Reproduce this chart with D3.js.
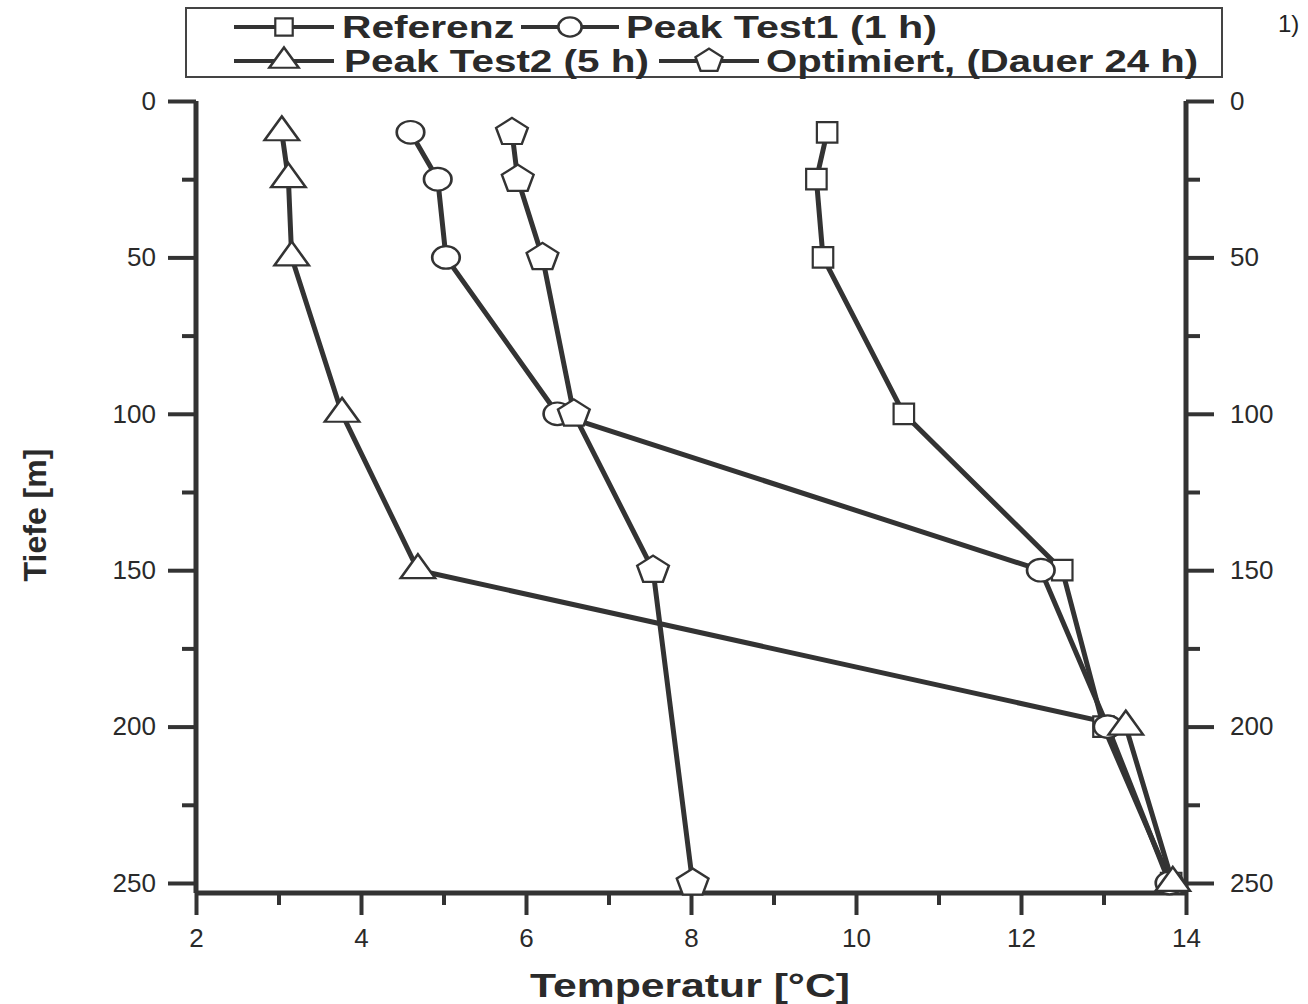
<!DOCTYPE html>
<html>
<head>
<meta charset="utf-8">
<script src="https://cdn.jsdelivr.net/npm/d3@7"></script>
<style>
  body { margin: 0; background: #fff; }
  svg { display: block; }
  .tick text { font-family: "Liberation Sans", Arial, sans-serif; font-size: 26px; fill: #2a2a2a; }
  .ttl { font-family: "Liberation Sans Narrow", "Liberation Sans", Arial, sans-serif; font-weight: bold; fill: #2a2a2a; }
</style>
</head>
<body>
<svg id="chart" width="1308" height="1004"></svg>
<script>
var depths = [10, 25, 50, 100, 150, 200, 250];
var referenz = [9.65, 9.52, 9.6, 10.58, 12.5, 13.0, 13.82];
var peakTest1 = [4.6, 4.93, 5.03, 6.38, 12.24, 13.05, 13.8];
var peakTest2 = [3.04, 3.12, 3.16, 3.77, 4.69, 13.27, 13.84];
var optDepths = [10, 25, 50, 100, 150, 250];
var optimiert = [5.83, 5.9, 6.2, 6.58, 7.54, 8.02];
var xTicks = [2, 4, 6, 8, 10, 12, 14];
var yTicks = [0, 50, 100, 150, 200, 250];

var ink = "#333";
var svg = d3.select("#chart");

var x = d3.scaleLinear().domain([2, 14]).range([196, 1186]);
var y = d3.scaleLinear().domain([0, 253.2]).range([101, 893]);

// pentagon symbol
var pentagon = {
  draw: function(ctx, size) {
    var r = Math.sqrt(size / 2.378);
    for (var i = 0; i < 5; i++) {
      var a = -Math.PI / 2 + i * 2 * Math.PI / 5;
      if (i == 0) ctx.moveTo(r * Math.cos(a), r * Math.sin(a));
      else ctx.lineTo(r * Math.cos(a), r * Math.sin(a));
    }
    ctx.closePath();
  }
};

var series = [
  {name: "Referenz", xs: referenz, ys: depths, sym: d3.symbolSquare, size: 420, sx: 1.0, sy: 1.0},
  {name: "Peak Test1 (1 h)", xs: peakTest1, ys: depths, sym: d3.symbolCircle, size: 400, sx: 1.22, sy: 1.0},
  {name: "Peak Test2 (5 h)", xs: peakTest2, ys: depths, sym: d3.symbolTriangle, size: 330, sx: 1.25, sy: 1.0},
  {name: "Optimiert, (Dauer 24 h)", xs: optimiert, ys: optDepths, sym: pentagon, size: 500, sx: 1.15, sy: 1.0}
];

// axes
var xAxis = d3.axisBottom(x).tickValues(xTicks).tickSize(22).tickPadding(14).tickFormat(d3.format("d"));
svg.append("g").attr("transform", "translate(0," + y(253.2) + ")").call(xAxis);
svg.append("g").attr("transform", "translate(0," + y(253.2) + ")")
  .call(d3.axisBottom(x).tickValues([3, 5, 7, 9, 11, 13]).tickSize(12).tickFormat(""));

svg.append("g").attr("transform", "translate(" + x(2) + ",0)")
  .call(d3.axisLeft(y).tickValues(yTicks).tickSize(28).tickPadding(12));
svg.append("g").attr("transform", "translate(" + x(2) + ",0)")
  .call(d3.axisLeft(y).tickValues([25, 75, 125, 175, 225]).tickSize(14).tickFormat(""));
svg.append("g").attr("transform", "translate(" + x(14) + ",0)")
  .call(d3.axisRight(y).tickValues(yTicks).tickSize(28).tickPadding(16));
svg.append("g").attr("transform", "translate(" + x(14) + ",0)")
  .call(d3.axisRight(y).tickValues([25, 75, 125, 175, 225]).tickSize(14).tickFormat(""));

svg.selectAll(".tick line").attr("stroke", ink).attr("stroke-width", 4);
// plain axis lines without end stubs
svg.selectAll(".domain").remove();
svg.append("line").attr("x1", x(2)).attr("x2", x(14)).attr("y1", y(253.2)).attr("y2", y(253.2))
  .attr("stroke", ink).attr("stroke-width", 5);
svg.append("line").attr("x1", x(2)).attr("x2", x(2)).attr("y1", y(0)).attr("y2", y(253.2))
  .attr("stroke", ink).attr("stroke-width", 5);
svg.append("line").attr("x1", x(14)).attr("x2", x(14)).attr("y1", y(0)).attr("y2", y(253.2))
  .attr("stroke", ink).attr("stroke-width", 5);

// axis titles
svg.append("text").attr("class", "ttl").attr("x", 530).attr("y", 997)
  .attr("textLength", 320).attr("lengthAdjust", "spacingAndGlyphs")
  .style("font-size", "34px").text("Temperatur [°C]");
svg.append("text").attr("class", "ttl").attr("transform", "translate(46,515) rotate(-90)")
  .attr("text-anchor", "middle").style("font-size", "32px").text("Tiefe [m]");

// lines
var line = d3.line();
series.forEach(function(s) {
  var pts = s.xs.map(function(v, i) { return [x(v), y(s.ys[i])]; });
  svg.append("path").attr("d", line(pts)).attr("fill", "none")
    .attr("stroke", ink).attr("stroke-width", 5).attr("stroke-linejoin", "round");
});

// markers
function marker(g, s, cx, cy, k) {
  g.append("path")
    .attr("d", d3.symbol().type(s.sym).size(s.size * k * k)())
    .attr("transform", "translate(" + cx + "," + cy + ") scale(" + s.sx + "," + s.sy + ")")
    .attr("fill", "#fff").attr("stroke", ink).attr("stroke-width", 2.2);
}
series.forEach(function(s) {
  s.xs.forEach(function(v, i) { marker(svg, s, x(v), y(s.ys[i]), 1); });
});

// legend
var leg = svg.append("g");
leg.append("rect").attr("x", 186).attr("y", 8).attr("width", 1036).attr("height", 69)
  .attr("fill", "none").attr("stroke", "#444").attr("stroke-width", 2);
var legPos = [
  {s: 0, x0: 234, x1: 334, ty: 27, tx: 342, tw: 172},
  {s: 1, x0: 521, x1: 619, ty: 27, tx: 626, tw: 311},
  {s: 2, x0: 234, x1: 334, ty: 61, tx: 344, tw: 305},
  {s: 3, x0: 659, x1: 759, ty: 61, tx: 766, tw: 432}
];
legPos.forEach(function(p) {
  var s = series[p.s];
  leg.append("line").attr("x1", p.x0).attr("x2", p.x1).attr("y1", p.ty).attr("y2", p.ty)
    .attr("stroke", ink).attr("stroke-width", 4);
  marker(leg, s, (p.x0 + p.x1) / 2, p.ty, 0.85);
  leg.append("text").attr("class", "ttl").attr("x", p.tx).attr("y", p.ty + 11)
    .style("font-size", "31px").attr("textLength", p.tw).attr("lengthAdjust", "spacingAndGlyphs")
    .text(s.name);
});

svg.append("text").attr("x", 1278).attr("y", 32)
  .style("font-family", "'Liberation Sans', sans-serif").style("font-size", "24px")
  .attr("fill", "#222").text("1)");
</script>
</body>
</html>
